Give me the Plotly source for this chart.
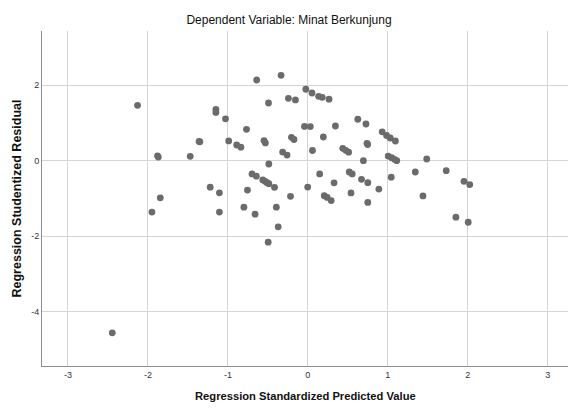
import plotly.graph_objects as go

# Data
pred_std = [
    -2.13, -1.15, -1.15, -1.03, -0.64, -0.335, -0.025, 0.052, 0.135, 0.18,
    0.265, -0.492, -0.243, -0.155, -0.767, -0.042, 0.031, 0.345, 0.625, 0.727,
    -1.36, -1.35, -0.99, -0.89, -0.837, -0.548, -0.531, -0.205, -0.173, 0.194,
    0.74, 0.748, 0.93, 0.985, 1.031, 1.095, -0.315, -0.26, 0.058, 0.437,
    0.474, 0.51, -1.88, -1.87, -1.471, 0.695, 1.005, 1.049, 1.083, 1.112,
    1.487, -0.488, -0.698, -0.644, -0.563, -0.534, -0.509, -0.488, -0.417, -1.221,
    -1.106, -0.755, -0.217, -1.846, -0.002, 0.148, 0.518, 0.555, 0.328, 0.671,
    0.75, 1.043, 1.344, 1.731, 1.953, 2.025, 0.205, 0.242, 0.292, 0.54,
    0.888, 1.44, 0.75, 1.852, 2.006, -1.95, -1.106, -0.8, -0.66, -0.394,
    -0.371, -0.496, -2.446,
]
stud_resid = [
    1.47, 1.36, 1.28, 1.11, 2.14, 2.265, 1.895, 1.796, 1.708, 1.682,
    1.632, 1.531, 1.655, 1.611, 0.833, 0.91, 0.905, 0.92, 1.10, 0.973,
    0.51, 0.50, 0.525, 0.416, 0.358, 0.535, 0.472, 0.62, 0.562, 0.628,
    0.462, 0.43, 0.765, 0.668, 0.602, 0.522, 0.228, 0.15, 0.27, 0.328,
    0.275, 0.226, 0.13, 0.095, 0.115, 0.0, 0.124, 0.08, 0.036, 0.0,
    0.045, -0.088, -0.35, -0.41, -0.512, -0.548, -0.583, -0.61, -0.707, -0.703,
    -0.853, -0.778, -0.946, -0.985, -0.70, -0.35, -0.30, -0.35, -0.588, -0.495,
    -0.584, -0.437, -0.30, -0.265, -0.548, -0.632, -0.929, -0.975, -1.057, -0.855,
    -0.752, -0.933, -1.106, -1.498, -1.632, -1.363, -1.363, -1.233, -1.419, -1.233,
    -1.755, -2.162, -4.566,
]
x_ticks = [-3, -2, -1, 0, 1, 2, 3]
y_ticks = [-4, -2, 0, 2]

title_text = "Dependent Variable: Minat Berkunjung"
x_title = "Regression Standardized Predicted Value"
y_title = "Regression Studentized Residual"

FONT = "Liberation Sans Narrow, Arial Narrow, Liberation Sans, Arial, sans-serif"

fig = go.Figure()
fig.add_trace(go.Scatter(
    x=pred_std, y=stud_resid, mode="markers",
    marker=dict(size=6.8, color="#6b6b6b", line=dict(width=0)),
    showlegend=False, hoverinfo="x+y",
))

fig.update_layout(
    width=568, height=410,
    margin=dict(l=42, r=0, t=31, b=44),
    paper_bgcolor="white", plot_bgcolor="white",
    font=dict(family=FONT, color="#222222"),
    title=dict(text=title_text, x=289 / 568, xref="container", xanchor="center",
               y=1 - 20 / 410, yref="container", yanchor="middle",
               font=dict(family=FONT, size=12, color="#111111")),
    xaxis=dict(range=[-3.325, 3.254], tickvals=x_ticks, ticktext=[str(v) for v in x_ticks],
               showgrid=True, gridcolor="#d4d4d4", gridwidth=1, zeroline=False,
               showline=True, linecolor="#8c8c8c", linewidth=1,
               ticks="", tickfont=dict(size=9, color="#333333"), fixedrange=True),
    yaxis=dict(range=[-5.445, 3.44], tickvals=y_ticks, ticktext=[str(v) for v in y_ticks],
               showgrid=True, gridcolor="#d4d4d4", gridwidth=1, zeroline=False,
               showline=True, linecolor="#8c8c8c", linewidth=1,
               ticks="", tickfont=dict(size=9, color="#333333"), fixedrange=True),
    annotations=[
        dict(text="<b>" + x_title + "</b>", xref="paper", yref="paper",
             x=0.5, y=-30 / 335, xanchor="center", yanchor="middle", showarrow=False,
             font=dict(family=FONT, size=11.2, color="#111111")),
        dict(text="<b>" + y_title + "</b>", xref="paper", yref="paper",
             x=-26 / 526, y=0.5, xanchor="center", yanchor="middle", showarrow=False,
             textangle=-90, font=dict(family=FONT, size=12.5, color="#111111")),
    ],
)

fig.write_html("out.html", config={"displayModeBar": False},
               post_script="document.body.style.margin='0';")
